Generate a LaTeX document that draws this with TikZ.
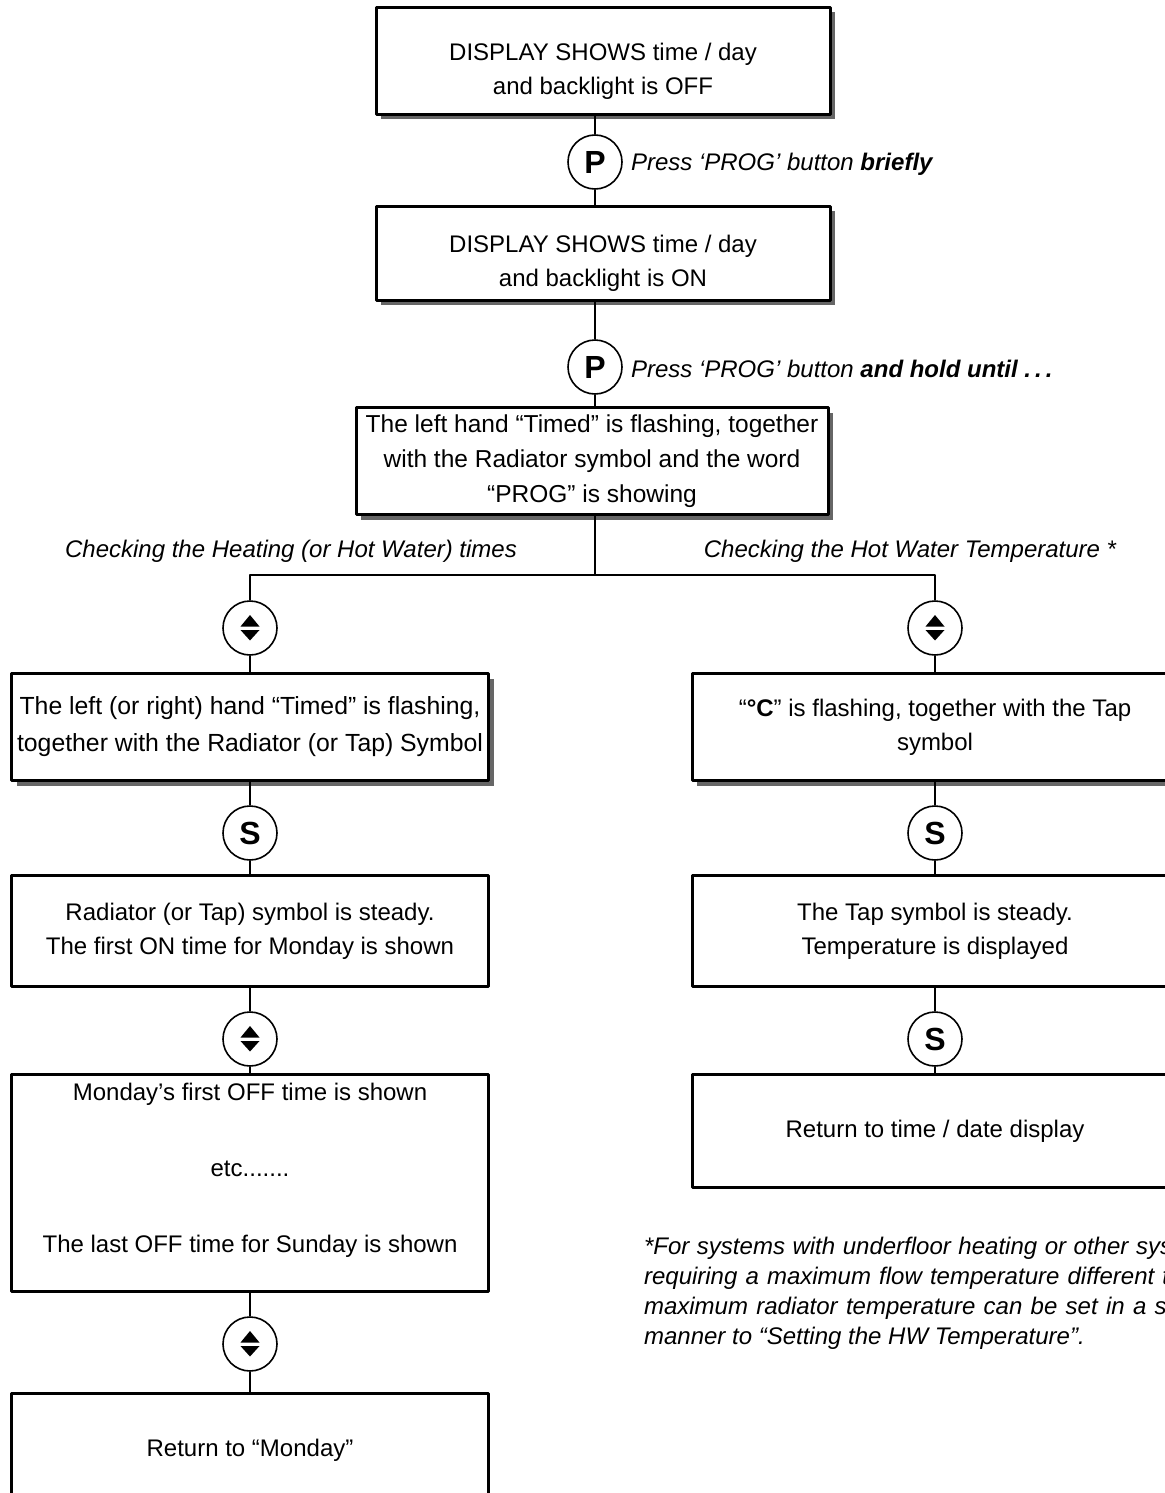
\documentclass[tikz,border=0pt]{standalone}
\usepackage{fontspec}
\setmainfont{Liberation Sans}
\usetikzlibrary{shadows}
\begin{document}
\begin{tikzpicture}[x=0.5pt, y=-0.5pt, line join=round,
    box/.style={draw, line width=1.5pt, fill=white, align=center, inner sep=0pt, font=\fontsize{12}{17}\selectfont},
    sbox/.style={box, drop shadow={shadow xshift=2.5pt, shadow yshift=-2.5pt, fill=black!60, opacity=1}},
    btn/.style={draw, circle, line width=0.8pt, minimum size=27pt, inner sep=0pt, fill=white, font=\fontsize{16}{16}\selectfont\bfseries},
    link/.style={line width=1pt},
    lbl/.style={font=\fontsize{12}{15}\selectfont\itshape}]
  \useasboundingbox (0,0) rectangle (1165,1493);
  \clip (0,0) rectangle (1165,1493);

  \node[sbox, minimum width=227pt, minimum height=53.5pt] (b1) at (603,61) {\rule{0pt}{19pt}DISPLAY SHOWS time / day\\and backlight is OFF};
  \node[btn] (p1) at (595,162) {P};
  \node[sbox, minimum width=227pt, minimum height=47pt] (b2) at (603,253) {\rule{0pt}{19pt}DISPLAY SHOWS time / day\\and backlight is ON};
  \node[btn] (p2) at (595,367) {P};
  \node[sbox, minimum width=236pt, minimum height=53.5pt, font=\fontsize{12.25}{17.5}\selectfont] (b3) at (592,461) {The left hand “Timed” is flashing, together\\with the Radiator symbol and the word\\“PROG” is showing};

  \node[lbl, anchor=west] (t1) at (624,164) {Press ‘PROG’ button \textbf{briefly}};
  \node[lbl, anchor=west] (t2) at (624,369) {Press ‘PROG’ button \textbf{and hold until .\,.\,.}};

  \coordinate (split) at (595,575);
  \node[lbl] (h1) at (291,551) {Checking the Heating (or Hot Water) times};
  \node[lbl] (h2) at (910,551) {Checking the Hot Water Temperature *};

  % heating times
  \node[btn] (u1) at (250,628) {};
  \node[sbox, minimum width=238.5pt, minimum height=53.5pt, font=\fontsize{12.4}{18.5}\selectfont] (b4) at (250,727) {The left (or right) hand “Timed” is flashing,\\together with the Radiator (or Tap) Symbol};
  \node[btn] (s1) at (250,833) {S};
  \node[box, minimum width=238.5pt, minimum height=55.5pt] (b5) at (250,931) {Radiator (or Tap) symbol is steady.\\The first ON time for Monday is shown};
  \node[btn] (u2) at (250,1039) {};
  \node[box, minimum width=238.5pt, minimum height=108.5pt] (b6) at (250,1183) {Monday’s first OFF time is shown\\[21pt]etc.......\\[21pt]The last OFF time for Sunday is shown\rule[-15pt]{0pt}{0pt}};
  \node[btn] (u3) at (250,1344) {};
  \node[box, minimum width=238.5pt, minimum height=57pt] (b7) at (250,1450) {Return to “Monday”};

  % hot water temperature
  \node[btn] (u4) at (935,628) {};
  \node[sbox, minimum width=243pt, minimum height=53.5pt] (r1) at (935,727) {“\textbf{°C}” is flashing, together with the Tap\\symbol};
  \node[btn] (s2) at (935,833) {S};
  \node[box, minimum width=243pt, minimum height=55.5pt] (r2) at (935,931) {The Tap symbol is steady.\\Temperature is displayed};
  \node[btn] (s3) at (935,1039) {S};
  \node[box, minimum width=243pt, minimum height=56.5pt] (r3) at (935,1131) {Return to time / date display};

  \node[lbl, anchor=north west, text width=290pt, align=justify] (note) at (637,1230) {*For systems with underfloor heating or other systems\linebreak requiring a maximum flow temperature different to the\linebreak maximum radiator temperature can be set in a similar\linebreak manner to “Setting the HW Temperature”.};

  \draw[link] (p1) -- (p1 |- b1.south);
  \draw[link] (p1) -- (p1 |- b2.north);
  \draw[link] (p2) -- (p2 |- b2.south);
  \draw[link] (p2) -- (p2 |- b3.north);
  \draw[link] (split |- b3.south) -- (split);
  \draw[link] (u1) |- (split) -| (u4);
  \draw[link] (u1) -- (b4) -- (s1) -- (b5) -- (u2) -- (b6) -- (u3) -- (b7);
  \draw[link] (u4) -- (r1) -- (s2) -- (r2) -- (s3) -- (r3);

  \foreach \u in {u1,u2,u3,u4} {
    \fill[shift={(\u.center)}] (-9.5,-1.5) -- (9.5,-1.5) -- (0,-13) -- cycle;
    \fill[shift={(\u.center)}] (-9.5,2) -- (9.5,2) -- (0,12.5) -- cycle;
  }
\end{tikzpicture}
\end{document}
